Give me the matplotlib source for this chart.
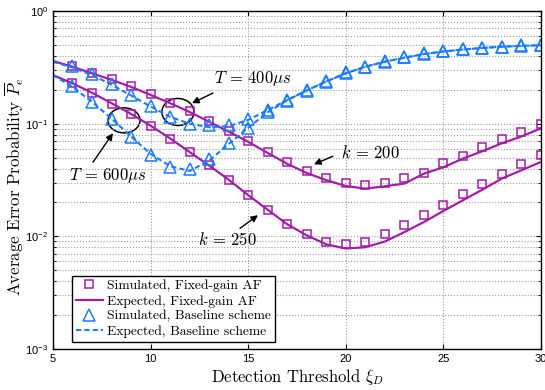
import numpy as np
import matplotlib
matplotlib.use("Agg")
import matplotlib.pyplot as plt
from matplotlib.patches import Ellipse
from matplotlib.ticker import FixedLocator, LogLocator, NullFormatter

plt.rcParams["mathtext.fontset"] = "cm"
plt.rcParams["axes.unicode_minus"] = False

# detection threshold values
xi_sim = np.arange(6, 31)
xi_exp = np.arange(5, 31)

# Fixed-gain AF, simulated (squares)
af_sim_k200 = [0.325, 0.281, 0.249, 0.216, 0.183, 0.152, 0.129, 0.105, 0.0858, 0.0699,
               0.0558, 0.0455, 0.0378, 0.0328, 0.0296, 0.0284, 0.0296, 0.0328, 0.0363,
               0.0446, 0.0514, 0.0618, 0.0728, 0.084, 0.099]
af_sim_k250 = [0.231, 0.188, 0.151, 0.121, 0.095, 0.0738, 0.0561, 0.0428, 0.0318, 0.0231,
               0.0173, 0.0130, 0.0104, 0.0089, 0.0085, 0.0089, 0.0104, 0.0125, 0.0154,
               0.0191, 0.0236, 0.029, 0.0356, 0.0443, 0.0525]
# Fixed-gain AF, expected (solid)
af_exp_k200 = [0.36, 0.32, 0.28, 0.245, 0.212, 0.18, 0.152, 0.127, 0.104, 0.085, 0.069,
               0.055, 0.044, 0.0365, 0.0315, 0.028, 0.0265, 0.0278, 0.0294, 0.036, 0.041,
               0.049, 0.057, 0.067, 0.077, 0.091]
af_exp_k250 = [0.27, 0.228, 0.188, 0.152, 0.122, 0.096, 0.074, 0.056, 0.0425, 0.0318,
               0.0232, 0.0172, 0.0128, 0.0102, 0.0085, 0.0078, 0.0080, 0.009, 0.0109,
               0.0134, 0.0168, 0.0209, 0.026, 0.0326, 0.0386, 0.0458]

# Baseline scheme, simulated (triangles)
bl_sim_t400 = [0.327, 0.275, 0.223, 0.179, 0.143, 0.115, 0.099, 0.097, 0.097, 0.111,
               0.132, 0.162, 0.199, 0.239, 0.289, 0.32, 0.36, 0.392, 0.421, 0.441,
               0.459, 0.472, 0.482, 0.495, 0.499]
bl_sim_t600 = [0.216, 0.156, 0.111, 0.0763, 0.0532, 0.0413, 0.0394, 0.049, 0.0667,
               0.0918, 0.127, 0.158, 0.194, 0.235, 0.283, 0.317, 0.356, 0.388, 0.418,
               0.438, 0.456, 0.47, 0.48, 0.49, 0.497]
# Baseline scheme, expected (dashed)
bl_exp_t400 = [0.354, 0.315, 0.27, 0.222, 0.178, 0.142, 0.115, 0.1, 0.093, 0.095, 0.108,
               0.132, 0.162, 0.197, 0.237, 0.28, 0.32, 0.355, 0.385, 0.415, 0.437,
               0.455, 0.47, 0.482, 0.49, 0.497]
bl_exp_t600 = [0.27, 0.212, 0.156, 0.111, 0.077, 0.054, 0.042, 0.038, 0.047, 0.066,
               0.092, 0.126, 0.162, 0.197, 0.237, 0.28, 0.32, 0.355, 0.385, 0.415,
               0.437, 0.455, 0.47, 0.482, 0.49, 0.497]

purple = "#a21ea6"
blue = "#1a7cff"
serif = "cmr10"

fig = plt.figure(figsize=(5.45, 3.9), dpi=100)
ax = fig.add_axes([0.0972, 0.1051, 0.8955, 0.8667])

ax.plot(xi_exp, af_exp_k200, color=purple, lw=1.6)
ax.plot(xi_exp, af_exp_k250, color=purple, lw=1.6)
ax.plot(xi_sim, af_sim_k200, "s", color=purple, mfc="none", ms=6, mew=1.1)
ax.plot(xi_sim, af_sim_k250, "s", color=purple, mfc="none", ms=6, mew=1.1)
ax.plot(xi_exp, bl_exp_t400, "--", color=blue, lw=1.5, dashes=(2.5, 1.5))
ax.plot(xi_exp, bl_exp_t600, "--", color=blue, lw=1.5, dashes=(2.5, 1.5))
ax.plot(xi_sim, bl_sim_t400, "^", color=blue, mfc="none", ms=8, mew=1.1)
ax.plot(xi_sim, bl_sim_t600, "^", color=blue, mfc="none", ms=8, mew=1.1)

ax.set_yscale("log")
ax.set_xlim(5, 30)
ax.set_ylim(1e-3, 1)
ax.xaxis.set_major_locator(FixedLocator([5, 10, 15, 20, 25, 30]))
ax.yaxis.set_major_locator(LogLocator(base=10))
ax.yaxis.set_minor_locator(LogLocator(base=10, subs=np.arange(2, 10)))
ax.yaxis.set_minor_formatter(NullFormatter())
ax.set_yticks([1e-3, 1e-2, 1e-1, 1])
ax.set_yticklabels([r"$\mathregular{10^{-3}}$", r"$\mathregular{10^{-2}}$",
                    r"$\mathregular{10^{-1}}$", r"$\mathregular{10^{0}}$"])
ax.tick_params(which="both", direction="in", top=True, right=True, labelsize=8)
for lab in ax.get_xticklabels() + ax.get_yticklabels():
    lab.set_family("Liberation Sans")
ax.grid(True, which="major", ls=":", color="#9a9a9a", lw=0.8)
ax.grid(True, which="minor", axis="y", ls=":", color="#9a9a9a", lw=0.8)
for s in ax.spines.values():
    s.set_linewidth(1.0)

ax.set_xlabel(r"Detection Threshold $\xi_D$", family=serif, fontsize=12, labelpad=2)
ax.set_ylabel(r"Average Error Probability $\overline{P}_e$", family=serif, fontsize=12.2)
ax.yaxis.set_label_coords(-0.056, 0.48)


def to_axes(x, y):
    return ((x - 5) / 25.0, (np.log10(y) + 3) / 3.0)


# ellipses marking the T groups
for cx, cy, w, h in [(11.4, 0.127, 32, 27), (8.64, 0.107, 32, 25)]:
    ax.add_patch(Ellipse(to_axes(cx, cy), w / 488.0, h / 338.0, transform=ax.transAxes,
                         fill=False, ec="black", lw=1.1))

arrow = dict(arrowstyle="-|>", color="black", lw=1.0, mutation_scale=10,
             shrinkA=0, shrinkB=0)
# (text, text position, arrow tail, arrow head)
notes = [
    (r"$T\,=\,400\mu s$", (15.25, 0.254), (13.2, 0.187), (12.12, 0.152)),
    (r"$T\,=\,600\mu s$", (7.8, 0.0348), (7.05, 0.0455), (8.07, 0.0823)),
    (r"$k\,=\,200$", (21.24, 0.0547), (19.34, 0.0514), (18.37, 0.0436)),
    (r"$k\,=\,250$", (13.91, 0.0092), (14.58, 0.01178), (15.5, 0.0154)),
]
for txt, pos, tail, head in notes:
    ax.text(pos[0], pos[1], txt, fontsize=12, ha="center", va="center")
    ax.annotate("", xy=head, xytext=tail, arrowprops=arrow)

h1, = ax.plot([], [], "s", color=purple, mfc="none", ms=6, mew=1.1)
h2, = ax.plot([], [], color=purple, lw=1.6)
h3, = ax.plot([], [], "^", color=blue, mfc="none", ms=8, mew=1.1)
h4, = ax.plot([], [], "--", color=blue, lw=1.5, dashes=(2.5, 1.5))
leg = ax.legend([h1, h2, h3, h4],
                ["Simulated, Fixed-gain AF", "Expected, Fixed-gain AF",
                 "Simulated, Baseline scheme", "Expected, Baseline scheme"],
                loc="lower left", bbox_to_anchor=(0.038, 0.02), prop={"family": serif, "size": 9.8},
                fancybox=False, framealpha=1, edgecolor="black", handlelength=2.0,
                handletextpad=0.3, borderpad=0.3, labelspacing=0.2, borderaxespad=0)
leg.get_frame().set_linewidth(1.0)

fig.savefig("out.png", dpi=100)
